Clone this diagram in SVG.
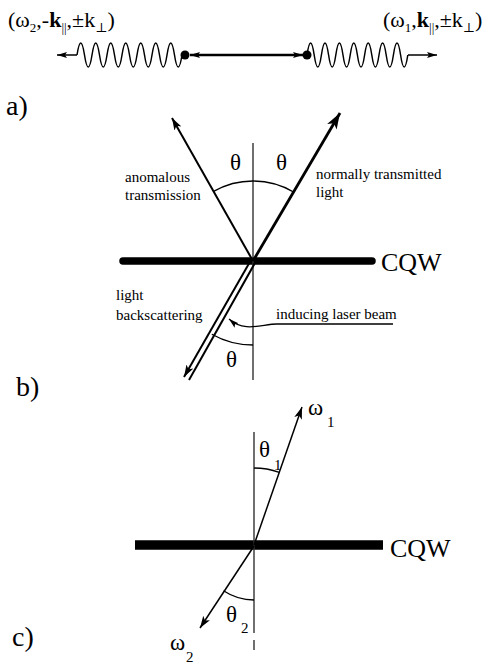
<svg xmlns="http://www.w3.org/2000/svg" width="492" height="666" viewBox="0 0 492 666" font-family="Liberation Serif, Times New Roman, DejaVu Serif, serif">
<style>
text{font-family:'Liberation Serif','DejaVu Serif',serif;fill:#000}
.lab{font-size:28px}
.sm{font-size:15px}
.th{font-size:23px}
.sub{font-size:15px}
.ln{fill:none;stroke:#000}
.ax{fill:none;stroke:#333;stroke-width:1.4}
</style>
<defs>
<marker id="ah" markerUnits="userSpaceOnUse" markerWidth="14" markerHeight="10" refX="12" refY="5" orient="auto">
<path d="M0,1 L12,5 L0,9 L3,5 Z" fill="#000"/>
</marker>
<marker id="ahb" markerUnits="userSpaceOnUse" markerWidth="18" markerHeight="12" refX="16" refY="6" orient="auto">
<path d="M0,0.5 L16,6 L0,11.5 L4,6 Z" fill="#000"/>
</marker>
<marker id="ahs" markerUnits="userSpaceOnUse" markerWidth="12" markerHeight="8" refX="10" refY="4" orient="auto">
<path d="M0,1 L10,4 L0,7 L2,4 Z" fill="#000"/>
</marker>
</defs>

<g id="panel-a">
<text x="8" y="27" font-size="22">(ω<tspan font-size="13" dy="5">2</tspan><tspan dy="-5">,-</tspan><tspan font-weight="bold">k</tspan><tspan font-size="13" dy="5">||</tspan><tspan dy="-5">,±k</tspan><tspan font-size="13" dy="5">⊥</tspan><tspan dy="-5">)</tspan></text>
<text x="383" y="27" font-size="22">(ω<tspan font-size="13" dy="5">1</tspan><tspan dy="-5">,</tspan><tspan font-weight="bold">k</tspan><tspan font-size="13" dy="5">||</tspan><tspan dy="-5">,±k</tspan><tspan font-size="13" dy="5">⊥</tspan><tspan dy="-5">)</tspan></text>
<g id="photon-left">
<path class="ln" stroke-width="1.5" d="M77,55 q3.75,-24 7.5,0 t7.5,0 t7.5,0 t7.5,0 t7.5,0 t7.5,0 t7.5,0 t7.5,0 t7.5,0 t7.5,0 t7.5,0 t7.5,0 t7.5,0 t7.5,0"/>
<line class="ln" stroke-width="1.5" x1="77" y1="55" x2="57" y2="55" marker-end="url(#ahs)"/>
<circle cx="185" cy="55" r="4.5" fill="#000"/>
</g>
<g id="photon-right">
<path class="ln" stroke-width="1.5" d="M307,55 q3.6,-24 7.2,0 t7.2,0 t7.2,0 t7.2,0 t7.2,0 t7.2,0 t7.2,0 t7.2,0 t7.2,0 t7.2,0 t7.2,0 t7.2,0 t7.2,0 t7.2,0"/>
<line class="ln" stroke-width="1.5" x1="408" y1="55" x2="437" y2="55" marker-end="url(#ahs)"/>
<circle cx="307" cy="55" r="4.5" fill="#000"/>
</g>
<g id="connectors-a">
<line class="ln" stroke-width="2.5" x1="246" y1="55" x2="190" y2="55" marker-end="url(#ahs)"/>
<line class="ln" stroke-width="2.5" x1="246" y1="55" x2="303" y2="55" marker-end="url(#ahs)"/>
</g>
<text class="lab" x="6" y="115">a)</text>
</g>

<g id="panel-b">
<line id="cqw-b" x1="123" y1="261" x2="372" y2="261" stroke="#000" stroke-width="7.5" stroke-linecap="round"/>
<text x="381" y="271" font-size="26">CQW</text>
<line class="ax" x1="253" y1="143" x2="253" y2="380"/>
<g id="connectors-b">
<line class="ln" stroke-width="2" x1="253" y1="261" x2="172" y2="118" marker-end="url(#ah)"/>
<line class="ln" stroke-width="2.8" x1="253" y1="261" x2="340" y2="113" marker-end="url(#ahb)"/>
<line class="ln" stroke-width="2" x1="251" y1="260" x2="184" y2="377" marker-end="url(#ah)"/>
<line class="ln" stroke-width="2" x1="255.5" y1="262" x2="189" y2="380"/>
<path class="ln" stroke-width="1.3" d="M213.6,191.4 A80,80 0 0,1 293.5,192"/>
<path class="ln" stroke-width="1.3" d="M253,345 A84,84 0 0,1 211.8,334.2"/>
<path class="ln" stroke-width="1.3" d="M393,324 L277,324 C262,324 245,333 229,319" marker-end="url(#ahs)"/>
</g>
<text class="th" x="230" y="170">θ</text>
<text class="th" x="276" y="170">θ</text>
<text class="th" x="226" y="367">θ</text>
<text class="sm" x="125" y="182">anomalous</text>
<text class="sm" x="125" y="200">transmission</text>
<text class="sm" x="316" y="179">normally transmitted</text>
<text class="sm" x="316" y="197">light</text>
<text class="sm" x="116" y="300">light</text>
<text class="sm" x="116" y="320">backscattering</text>
<text class="sm" x="276" y="319">inducing laser beam</text>
<text class="lab" x="16" y="396">b)</text>
</g>

<g id="panel-c">
<line id="cqw-c" x1="135" y1="545" x2="383" y2="545" stroke="#000" stroke-width="9.5"/>
<text x="390" y="557" font-size="26">CQW</text>
<line class="ax" x1="254" y1="432" x2="254" y2="633"/>
<line class="ax" x1="254" y1="640" x2="254" y2="650"/>
<g id="connectors-c">
<line class="ln" stroke-width="1.5" x1="254" y1="545" x2="302" y2="407" marker-end="url(#ah)"/>
<line class="ln" stroke-width="1.5" x1="254" y1="546" x2="200" y2="628" marker-end="url(#ah)"/>
<path class="ln" stroke-width="1.3" d="M254,468 A77,77 0 0,1 279.3,472.3"/>
<path class="ln" stroke-width="1.3" d="M254,600 A55,55 0 0,1 223.5,590.8"/>
</g>
<text class="th" x="308" y="415">ω</text><text class="sub" x="327" y="427">1</text>
<text class="th" x="259" y="457">θ</text><text class="sub" x="274" y="470">1</text>
<text class="th" x="226" y="622">θ</text><text class="sub" x="241" y="633">2</text>
<text class="th" x="170" y="650">ω</text><text class="sub" x="186" y="662">2</text>
<text class="lab" x="12" y="646">c)</text>
</g>
</svg>
